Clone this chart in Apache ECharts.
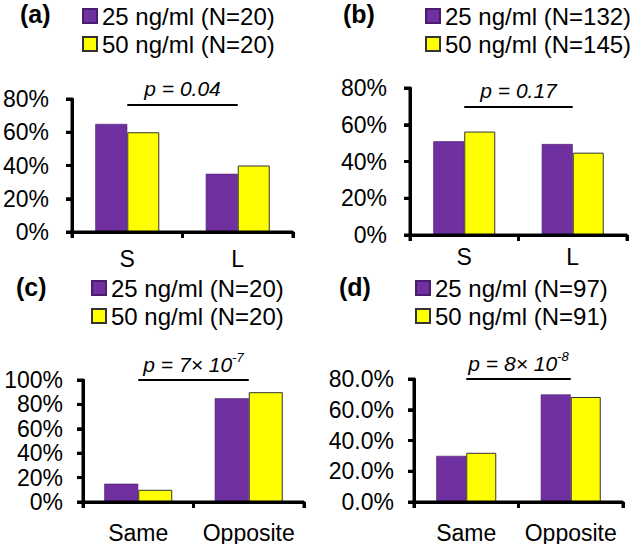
<!DOCTYPE html>
<html><head><meta charset="utf-8">
<script src="https://cdn.jsdelivr.net/npm/echarts@6/dist/echarts.min.js"></script>
<style>html,body{margin:0;padding:0;background:#fff}#c{width:630px;height:544px;background:#fff}</style>
</head><body><div id="c"></div>
<script>
// ---- data ----
const panelLabels = ['(a)', '(b)', '(c)', '(d)'];
const catsAB = ['S', 'L'];
const catsCD = ['Same', 'Opposite'];
const seriesNamesA = ['25 ng/ml (N=20)', '50 ng/ml (N=20)'];
const seriesNamesB = ['25 ng/ml (N=132)', '50 ng/ml (N=145)'];
const seriesNamesC = ['25 ng/ml (N=20)', '50 ng/ml (N=20)'];
const seriesNamesD = ['25 ng/ml (N=97)', '50 ng/ml (N=91)'];
const a25 = [65, 35];
const a50 = [60, 40];
const b25 = [51, 49.5];
const b50 = [56.3, 44.8];
const c25 = [15, 85];
const c50 = [10, 90];
const d25 = [30, 70];
const d50 = [32, 68.3];
const yMax = [80, 80, 100, 80];
const yStep = [20, 20, 20, 20];
const yTickDecimals = [0, 0, 0, 1];
const pTexts = ['{t|p = 0.04}', '{t|p = 0.17}', '{t|p = 7× 10}{s|-7}', '{t|p = 8× 10}{s|-8}'];
const pLevels = [76.5, 70, 100, 80];

// ---- layout ----
const FONT = '"Liberation Sans", Arial, Helvetica, sans-serif';
const grids = [
  {left: 68, top: 99, width: 225, height: 133},
  {left: 410, top: 88, width: 217, height: 147},
  {left: 83, top: 380, width: 221, height: 122},
  {left: 414, top: 379, width: 209, height: 123}
];
const titlePos = [{left: 20, top: 1}, {left: 343, top: 1}, {left: 16, top: 274}, {left: 339, top: 274}];
const legendPos = [{left: 82, top: 4}, {left: 425, top: 4}, {left: 91, top: 276}, {left: 415, top: 276}];
const yLabelMargins = [23, 23, 20, 20];
const xLabelMargins = [15, 10, 19, 19];
const barWidths = [32, 31, 34, 30];
const cats = [catsAB, catsAB, catsCD, catsCD];
const names = [seriesNamesA, seriesNamesB, seriesNamesC, seriesNamesD];
const vals = [[a25, a50], [b25, b50], [c25, c50], [d25, d50]];

const PURPLE = '#7030A0', YELLOW = '#FFFF00';
const mkLine = () => ({show: true, onZero: false, lineStyle: {color: '#000', width: 3, opacity: 1}});
const mkTick = () => ({show: true, length: 6, inside: false, lineStyle: {color: '#000', width: 3, opacity: 1}});

const option = {
  animation: false,
  textStyle: {fontFamily: FONT},
  title: panelLabels.map((t, i) => ({text: t, left: titlePos[i].left, top: titlePos[i].top, padding: 0,
    textStyle: {fontFamily: FONT, fontSize: 25, fontWeight: 'bold', color: '#000'}})),
  legend: names.map((n, i) => ({
    data: n, orient: 'vertical', left: legendPos[i].left, top: legendPos[i].top, padding: 0,
    itemGap: 4, itemWidth: 14, itemHeight: 14, icon: 'rect', selectedMode: false,
    textStyle: {fontFamily: FONT, fontSize: 24, color: '#000', lineHeight: 24}
  })),
  grid: grids,
  xAxis: cats.map((c, i) => ({
    type: 'category', gridIndex: i, data: c,
    axisLine: mkLine(), axisTick: mkTick(),
    axisLabel: {fontFamily: FONT, fontSize: 23, color: '#000', margin: xLabelMargins[i], interval: 0},
    splitLine: {show: false}
  })),
  yAxis: yMax.map((m, i) => ({
    type: 'value', gridIndex: i, min: 0, max: m, interval: yStep[i],
    axisLine: mkLine(), axisTick: mkTick(),
    axisLabel: {fontFamily: FONT, fontSize: 23, color: '#000', margin: yLabelMargins[i],
      formatter: v => v.toFixed(yTickDecimals[i]) + '%'},
    splitLine: {show: false}
  })),
  series: []
};

vals.forEach((pair, i) => {
  option.series.push({
    type: 'bar', name: names[i][0], xAxisIndex: i, yAxisIndex: i, data: pair[0],
    barWidth: barWidths[i], barGap: '0%',
    itemStyle: {color: PURPLE, borderColor: '#4a1d6e', borderWidth: 0.6}
  });
  option.series.push({
    type: 'bar', name: names[i][1], xAxisIndex: i, yAxisIndex: i, data: pair[1],
    barWidth: barWidths[i], barGap: '0%',
    itemStyle: {color: YELLOW, borderColor: '#333', borderWidth: 1}
  });
  // significance bar between the two category centres
  option.series.push({
    type: 'line', name: 'p' + i, xAxisIndex: i, yAxisIndex: i, data: [],
    markLine: {
      silent: true, symbol: 'none', animation: false,
      lineStyle: {color: '#000', width: 2, type: 'solid'},
      label: {
        show: true, position: 'middle', distance: 3, formatter: pTexts[i],
        rich: {
          t: {fontFamily: FONT, fontSize: 21, fontStyle: 'italic', color: '#000', lineHeight: 26},
          s: {fontFamily: FONT, fontSize: 13, fontStyle: 'italic', color: '#000', lineHeight: 14, verticalAlign: 'top'}
        }
      },
      data: [[{coord: [0, pLevels[i]]}, {coord: [1, pLevels[i]]}]]
    }
  });
});

const chart = echarts.init(document.getElementById('c'), null, {renderer: 'svg'});
chart.setOption(option);

// Reinforce axis lines and ticks, positioned from the chart's own scales.
const axisEls = [];
const seg = (x1, y1, x2, y2) => axisEls.push({type: 'line', z: 100, silent: true,
  shape: {x1, y1, x2, y2}, style: {stroke: '#000', lineWidth: 3}});
cats.forEach((c, i) => {
  const c0 = chart.convertToPixel({xAxisIndex: i}, 0);
  const c1 = chart.convertToPixel({xAxisIndex: i}, c.length - 1);
  const band = (c1 - c0) / (c.length - 1);
  const xL = c0 - band / 2, xR = c1 + band / 2;
  const y0 = chart.convertToPixel({yAxisIndex: i}, 0);
  const yT = chart.convertToPixel({yAxisIndex: i}, yMax[i]);
  seg(xL, yT, xL, y0 + 1.5);
  seg(xL - 1.5, y0, xR, y0);
  for (let k = 0; k <= c.length; k++) {
    const x = xL + k * band;
    seg(x, y0, x, y0 + 6);
  }
  for (let v = 0; v <= yMax[i]; v += yStep[i]) {
    const y = chart.convertToPixel({yAxisIndex: i}, v);
    seg(xL - 6, y, xL, y);
  }
});
chart.setOption({graphic: axisEls});
</script></body></html>
